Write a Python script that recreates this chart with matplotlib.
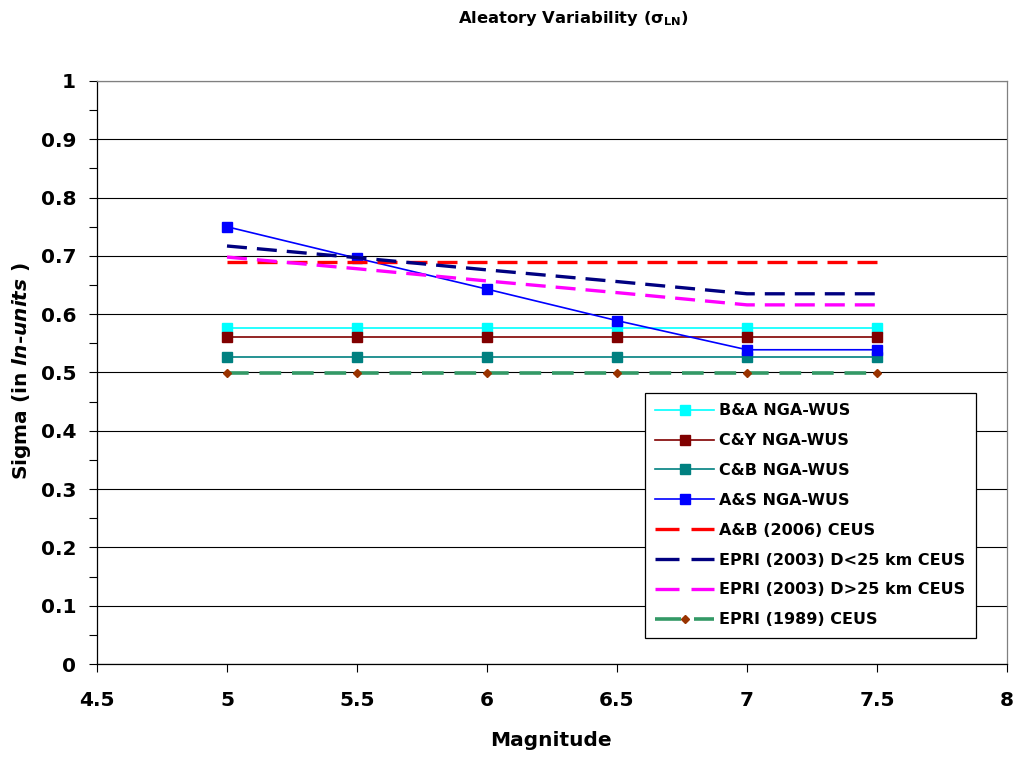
import matplotlib
matplotlib.use("Agg")
import matplotlib.pyplot as plt
from matplotlib.ticker import MultipleLocator, FormatStrFormatter

plt.rcParams['font.family'] = ['DejaVu Sans']
plt.rcParams['mathtext.fontset'] = 'custom'
plt.rcParams['mathtext.rm'] = 'DejaVu Sans:bold'
plt.rcParams['mathtext.bf'] = 'DejaVu Sans:bold'
plt.rcParams['mathtext.it'] = 'DejaVu Sans:bold:italic'

magnitude = [5.0, 5.5, 6.0, 6.5, 7.0, 7.5]
ba_nga = [0.576, 0.576, 0.576, 0.576, 0.576, 0.576]
cy_nga = [0.561, 0.561, 0.561, 0.561, 0.561, 0.561]
cb_nga = [0.527, 0.527, 0.527, 0.527, 0.527, 0.527]
as_nga = [0.750, 0.696, 0.643, 0.589, 0.539, 0.539]
ab_2006 = [0.690, 0.690, 0.690, 0.690, 0.690, 0.690]
epri03_near = [0.717, 0.697, 0.676, 0.656, 0.635, 0.635]
epri03_far = [0.698, 0.678, 0.657, 0.637, 0.616, 0.616]
epri_1989 = [0.500, 0.500, 0.500, 0.500, 0.500, 0.500]

labels = ["B&A NGA-WUS", "C&Y NGA-WUS", "C&B NGA-WUS", "A&S NGA-WUS",
          "A&B (2006) CEUS", "EPRI (2003) D<25 km CEUS",
          "EPRI (2003) D>25 km CEUS", "EPRI (1989) CEUS"]

fig = plt.figure(figsize=(10.2, 7.6), dpi=100)
ax = fig.add_axes([97/1020, 1-664/760, 910/1020, 583/760])

ax.set_xlim(4.5, 8)
ax.set_ylim(0, 1)
ax.yaxis.grid(True, which='major', color='black', linewidth=0.8)
ax.set_axisbelow(True)

dash = (0, (6, 3))
ax.plot(magnitude, ba_nga, color='#00FFFF', lw=1.2, marker='s', ms=7.5, label=labels[0])
ax.plot(magnitude, cy_nga, color='#800000', lw=1.2, marker='s', ms=7.5, label=labels[1])
ax.plot(magnitude, cb_nga, color='#008080', lw=1.2, marker='s', ms=7.5, label=labels[2])
ax.plot(magnitude, as_nga, color='#0000FF', lw=1.2, marker='s', ms=7.5, label=labels[3])
ax.plot(magnitude, ab_2006, color='#FF0000', lw=2.4, linestyle=dash, label=labels[4])
ax.plot(magnitude, epri03_near, color='#000080', lw=2.4, linestyle=dash, label=labels[5])
ax.plot(magnitude, epri03_far, color='#FF00FF', lw=2.4, linestyle=dash, label=labels[6])
ax.plot(magnitude, epri_1989, color='#339966', lw=2.6, linestyle=dash, marker='D', ms=4.5,
        mfc='#993300', mec='#993300', label=labels[7])

ax.xaxis.set_major_locator(MultipleLocator(0.5))
ax.yaxis.set_major_locator(MultipleLocator(0.1))
ax.yaxis.set_minor_locator(MultipleLocator(0.05))
ax.xaxis.set_major_formatter(FormatStrFormatter('%g'))
ax.yaxis.set_major_formatter(FormatStrFormatter('%g'))
ax.tick_params(axis='both', which='both', direction='out', length=5.5, width=0.8, labelsize=14.5)
ax.tick_params(axis='x', pad=14)
ax.tick_params(axis='y', pad=9.5)
for lab in ax.get_xticklabels() + ax.get_yticklabels():
    lab.set_fontweight('bold')

ax.spines['left'].set_color('black')
ax.spines['bottom'].set_color('black')
ax.spines['top'].set_color('#808080')
ax.spines['right'].set_color('#808080')
for s in ax.spines.values():
    s.set_linewidth(0.9)

fig.text(551/1020, 1-741/760, "Magnitude", fontsize=14.5, fontweight='bold',
         ha='center', va='center')
fig.text(22/1020, 1-371/760, r"Sigma (in $\mathit{ln}$-$\mathit{units}$ )", rotation=90,
         fontsize=14.5, fontweight='bold', ha='center', va='center')
fig.text(574/1020, 1-18/760, r"Aleatory Variability (σ$_{\mathrm{LN}}$)", fontsize=11.8,
         fontweight='bold', ha='center', va='center')

leg = ax.legend(loc='upper left', bbox_to_anchor=(0.602, 0.465), borderaxespad=0,
                prop={'weight': 'bold', 'size': 11.5},
                frameon=True, fancybox=False, edgecolor='black', framealpha=1,
                handlelength=3.7, handletextpad=0.3, labelspacing=0.93, borderpad=0.65)
leg.get_frame().set_linewidth(0.9)
for ln in leg.get_lines()[4:]:
    ln.set_linestyle((0, (7.2, 3.6)))

fig.savefig("out.png", dpi=100)
